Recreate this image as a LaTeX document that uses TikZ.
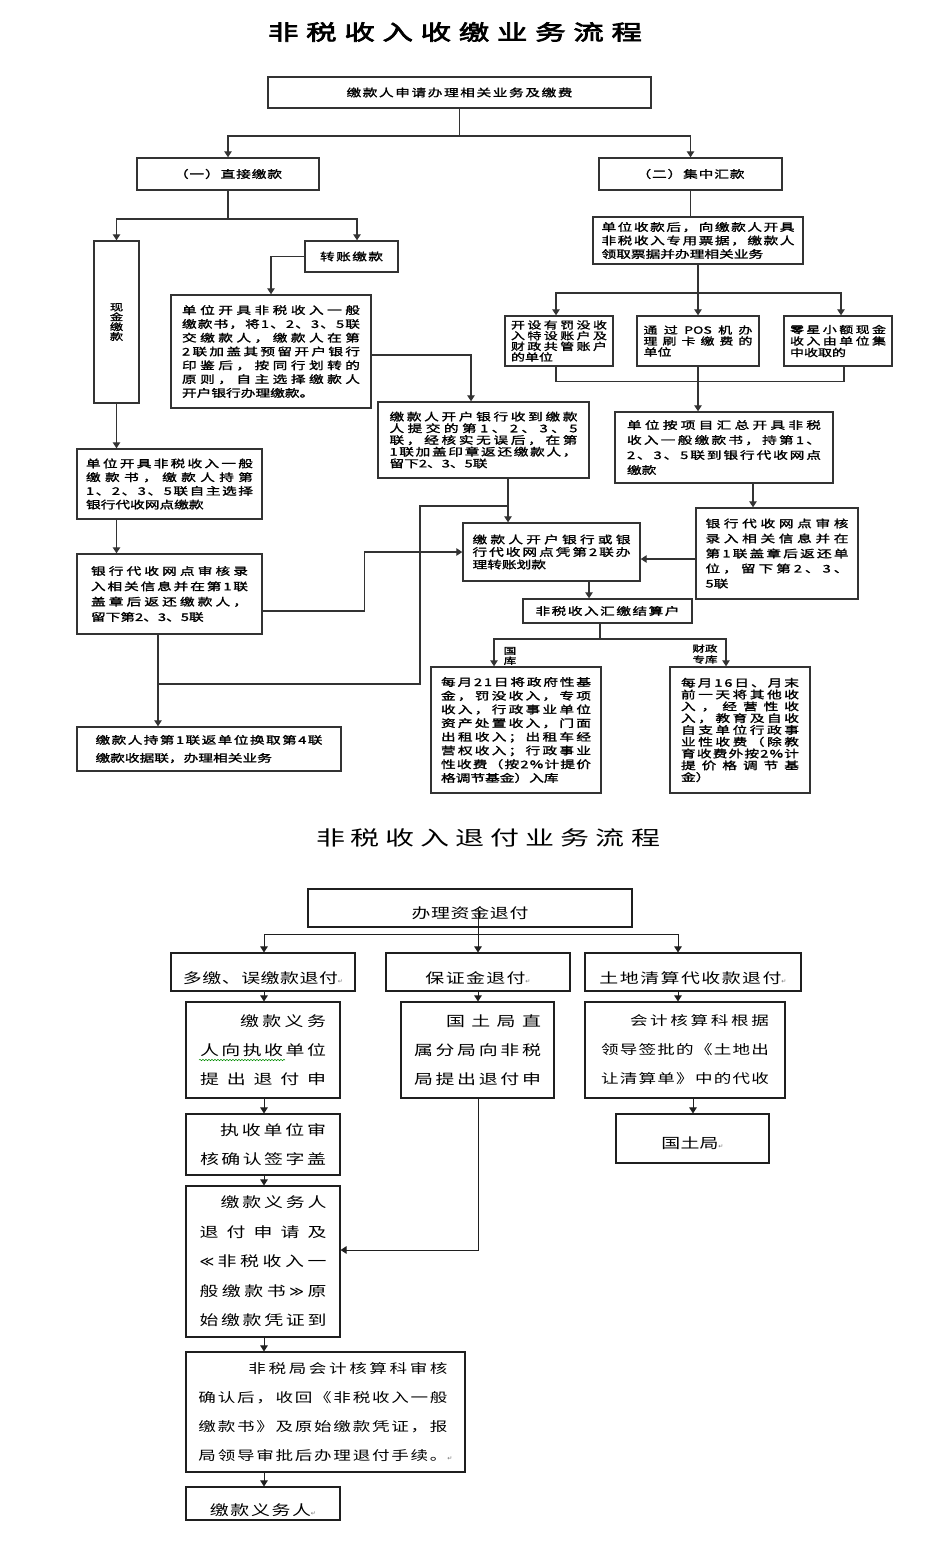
\documentclass[tikz,border=0pt]{standalone}
\usepackage{fontspec}
\usetikzlibrary{arrows.meta,decorations.pathmorphing}
\newfontfamily\cjkb[FakeStretch=1.4,FakeBold=1.6]{Noto Sans CJK SC}
\newfontfamily\cjkr[FakeStretch=1.35]{Noto Sans CJK SC}
\newfontfamily\cjkt[FakeStretch=1.45,FakeBold=3.5]{Noto Sans CJK SC}
\newfontfamily\cjktt[FakeStretch=1.45]{Noto Sans CJK SC}
\newfontfamily\dvs{DejaVu Sans}
\def\jsep{\hskip 0pt plus 1fil\relax}
\def\jloop#1{\ifx\relax#1\else#1\jsep\expandafter\jloop\fi}
\newcommand\J[2]{\hbox to #1{\jloop#2\relax\unskip}}
\newcommand\tb[2]{\vbox{\baselineskip=#1\lineskiplimit=-100pt\lineskip=0pt #2}}
\newcommand\ret{{\dvs\fontsize{6pt}{6pt}\selectfont\textcolor{black!55}{↵}}}
\newcommand\mylll{{\dvs ≪}}
\newcommand\myggg{{\dvs ≫}}
\tikzset{
  ubox/.style={draw=black!80, line width=1.4pt, inner sep=0pt, font=\cjkb\fontsize{10.5pt}{13pt}\selectfont},
  lbox/.style={draw=black!88, line width=1.1pt, inner sep=0pt, font=\cjkr\fontsize{14pt}{16pt}\selectfont},
  ln/.style={draw=black!80, line width=1.2pt},
  arr/.style={ln, -{Triangle[length=6pt,width=7.5pt]}},
  lln/.style={draw=black!88, line width=1pt},
  larr/.style={lln, -{Triangle[length=6pt,width=7.5pt]}},
  lab/.style={inner sep=0pt, font=\cjkb\fontsize{9pt}{10pt}\selectfont},
  lowtext/.style={text height=#1, text depth=0pt}
}
\begin{document}
\begin{tikzpicture}[x=1pt,y=-1pt]
\fill[white] (0,0) rectangle (952,1547);
\useasboundingbox (0,0) rectangle (952,1547);

% titles
\node[inner sep=0pt, font=\cjkt\fontsize{21pt}{21pt}\selectfont] (t1) at (455,32) {\J{374pt}{非税收入收缴业务流程}};
\node[inner sep=0pt, font=\cjktt\fontsize{20pt}{20pt}\selectfont] (t2) at (488,838) {\J{344pt}{非税收入退付业务流程}};

% ---------- upper flow ----------
\node[ubox, minimum width=383pt, minimum height=31pt] (n0) at (459.5,92.5) {\J{226pt}{缴款人申请办理相关业务及缴费}};
\node[ubox, minimum width=182pt, minimum height=32pt] (n1) at (228,174) {\J{108pt}{（一）直接缴款}};
\node[ubox, minimum width=183pt, minimum height=32pt] (n2) at (690.5,174) {\J{108pt}{（二）集中汇款}};
\node[ubox, minimum width=45pt, minimum height=162pt, font=\cjkb\fontsize{9.5pt}{9.5pt}\selectfont] (n3) at (116.5,322) {\tb{9.8pt}{\hbox{现}\hbox{金}\hbox{缴}\hbox{款}}};
\node[ubox, minimum width=93pt, minimum height=31pt] (n4) at (351.5,256.5) {\J{63pt}{转账缴款}};
\node[ubox, minimum width=200pt, minimum height=113pt] (n5) at (271,351.5) {\tb{13.8pt}{\J{178pt}{单位开具非税收入一般}\J{178pt}{缴款书，将1、2、3、5联}\J{178pt}{交缴款人，缴款人在第}\J{178pt}{2联加盖其预留开户银行}\J{178pt}{印鉴后，按同行划转的}\J{178pt}{原则，自主选择缴款人}\hbox{开户银行办理缴款。}}};
\node[ubox, minimum width=211pt, minimum height=76pt] (n6) at (483.5,440) {\tb{11.7pt}{\J{188pt}{缴款人开户银行收到缴款}\J{188pt}{人提交的第1、2、3、5}\J{188pt}{联，经核实无误后，在第}\J{188pt}{1联加盖印章返还缴款人，}\hbox{留下2、3、5联}}};
\node[ubox, minimum width=185pt, minimum height=70pt] (n7) at (169.5,484) {\tb{13.7pt}{\J{167pt}{单位开具非税收入一般}\J{167pt}{缴款书，缴款人持第}\J{167pt}{1、2、3、5联自主选择}\hbox{银行代收网点缴款}}};
\node[ubox, minimum width=185pt, minimum height=80pt] (n8) at (169.5,594) {\tb{15.3pt}{\J{157pt}{银行代收网点审核录}\J{157pt}{入相关信息并在第1联}\J{157pt}{盖章后返还缴款人，}\hbox{留下第2、3、5联}}};
\node[ubox, minimum width=177pt, minimum height=58pt] (n9) at (551.5,552) {\tb{12.5pt}{\J{158pt}{缴款人开户银行或银}\J{158pt}{行代收网点凭第2联办}\hbox{理转账划款}}};
\node[ubox, minimum width=264pt, minimum height=44pt] (n10) at (209,749) {\tb{18pt}{\J{227pt}{缴款人持第1联返单位换取第4联}\hbox{缴款收据联，办理相关业务}}};
\node[ubox, minimum width=169pt, minimum height=24pt] (n11) at (607.5,611) {\J{144pt}{非税收入汇缴结算户}};
\node[ubox, minimum width=170pt, minimum height=126pt] (n12) at (516,730) {\tb{13.7pt}{\J{150pt}{每月21日将政府性基}\J{150pt}{金，罚没收入，专项}\J{150pt}{收入，行政事业单位}\J{150pt}{资产处置收入，门面}\J{150pt}{出租收入；出租车经}\J{150pt}{营权收入；行政事业}\J{150pt}{性收费（按2\%计提价}\hbox{格调节基金）入库}}};
\node[ubox, minimum width=140pt, minimum height=126pt] (n13) at (740,730) {\tb{11.8pt}{\J{118pt}{每月16日、月末}\J{118pt}{前一天将其他收}\J{118pt}{入，经营性收}\J{118pt}{入，教育及自收}\J{118pt}{自支单位行政事}\J{118pt}{业性收费（除教}\J{118pt}{育收费外按2\%计}\J{118pt}{提价格调节基}\hbox{金）}}};
\node[ubox, minimum width=210pt, minimum height=47pt] (n14) at (698,240.5) {\tb{13.5pt}{\J{193pt}{单位收款后，向缴款人开具}\J{193pt}{非税收入专用票据，缴款人}\hbox{领取票据并办理相关业务}}};
\node[ubox, minimum width=108pt, minimum height=50pt, font=\cjkb\fontsize{10pt}{11pt}\selectfont] (n15) at (559,341) {\tb{10.7pt}{\J{96pt}{开设有罚没收}\J{96pt}{入特设账户及}\J{96pt}{财政共管账户}\hbox{的单位}}};
\node[ubox, minimum width=122pt, minimum height=50pt, font=\cjkb\fontsize{10pt}{11pt}\selectfont] (n16) at (698,341) {\tb{11pt}{\J{109pt}{通过{POS}机办}\J{109pt}{理刷卡缴费的}\hbox{单位}}};
\node[ubox, minimum width=108pt, minimum height=50pt, font=\cjkb\fontsize{10pt}{11pt}\selectfont] (n17) at (838,341) {\tb{11.5pt}{\J{96pt}{零星小额现金}\J{96pt}{收入由单位集}\hbox{中收取的}}};
\node[ubox, minimum width=218pt, minimum height=71pt] (n18) at (724,447.5) {\tb{15pt}{\J{194pt}{单位按项目汇总开具非税}\J{194pt}{收入一般缴款书，持第1、}\J{194pt}{2、3、5联到银行代收网点}\hbox{缴款}}};
\node[ubox, minimum width=162pt, minimum height=91pt] (n19) at (777,553.5) {\tb{15pt}{\J{143pt}{银行代收网点审核}\J{143pt}{录入相关信息并在}\J{143pt}{第1联盖章后返还单}\J{143pt}{位，留下第2、3、}\hbox{5联}}};

\node[lab] (lk1) at (510,656) {\tb{10pt}{\hbox{国}\hbox{库}}};
\node[lab] (lk2) at (705,654) {\tb{11pt}{\hbox{财政}\hbox{专库}}};

% helper coordinates
\coordinate (x471) at (471,0);
\coordinate (x158) at (158,0);
\coordinate (x508) at (508,0);
\coordinate (x589) at (589,0);
\coordinate (x600) at (600,0);
\coordinate (x494) at (494,0);
\coordinate (x726) at (726,0);
\coordinate (x556) at (556,0);
\coordinate (x841) at (841,0);
\coordinate (x844) at (844,0);
\coordinate (x753) at (753,0);
\coordinate (y559) at (0,559);
\coordinate (j1) at (459.5,136);
\coordinate (j2) at (228,219);
\coordinate (j3) at (158,684);
\coordinate (j4) at (508,506);
\coordinate (j5) at (600,639);
\coordinate (j6) at (698,293);
\coordinate (j7) at (420,506);

% upper connectors
\draw[ln] (n0.south) -- (j1);
\draw[arr] (j1) -| (n1.north);
\draw[arr] (j1) -| (n2.north);
\draw[ln] (n1.south) -- (j2);
\draw[arr] (j2) -| (n3.north);
\draw[arr] (j2) -| ([xshift=5.5pt]n4.north);
\draw[arr] (n4.west) -| (n5.north);
\draw[arr] ([yshift=-3.5pt]n5.east) -| (n6.north -| x471);
\draw[arr] (n3.south) -- (n3.south |- n7.north);
\draw[arr] (n3.south |- n7.south) -- (n3.south |- n8.north);
\draw[arr] ([yshift=-17pt]n8.east) -- ++(102,0) |- (n9.west);
\draw[arr] (n8.south -| x158) -- (n10.north -| x158);
\draw[ln] (j3) -| (j7) -- (j4);
\draw[arr] (n6.south -| x508) -- (n9.north -| x508);
\draw[arr] (n9.south -| x589) -- (n11.north -| x589);
\draw[ln] (n11.south -| x600) -- (j5);
\draw[arr] (j5) -| (n12.north -| x494);
\draw[arr] (j5) -| (n13.north -| x726);
\draw[ln] (n2.south) -- (n2.south |- n14.north);
\draw[arr] (n14.south) -- (n16.north);
\draw[arr] (j6) -| (n15.north -| x556);
\draw[arr] (j6) -| (n17.north -| x841);
\draw[ln] (n15.south -| x556) -- ++(0,15) -| (n17.south -| x844);
\draw[arr] (n16.south) -- (n18.north -| n16.south);
\draw[arr] (n18.south -| x753) -- (n19.north -| x753);
\draw[arr] (n19.west |- y559) -- (n9.east |- y559);

% ---------- lower flow ----------
\node[lbox, minimum width=324pt, minimum height=38pt, lowtext=21.5pt] (b0) at (470,908) {\J{117pt}{办理资金退付}};
\node[lbox, minimum width=184pt, minimum height=38pt, lowtext=22.5pt] (b1) at (263,972) {\J{155pt}{多缴、误缴款退付}\ret};
\node[lbox, minimum width=184pt, minimum height=38pt, lowtext=22.5pt] (b2) at (478,972) {\J{100pt}{保证金退付}\ret};
\node[lbox, minimum width=216pt, minimum height=38pt, lowtext=22.5pt] (b3) at (693,972) {\J{182pt}{土地清算代收款退付}\ret};
\node[lbox, minimum width=154pt, minimum height=96pt] (b4) at (263,1050) {\tb{29pt}{\hbox to 126pt{\hfill\J{86pt}{缴款义务}}\J{126pt}{人向执收单位}\J{126pt}{提出退付申}}};
\node[lbox, minimum width=153pt, minimum height=96pt] (b5) at (477.5,1050) {\tb{29pt}{\hbox to 127pt{\hfill\J{95pt}{国土局直}}\J{127pt}{属分局向非税}\J{127pt}{局提出退付申}}};
\node[lbox, minimum width=200pt, minimum height=96pt, font=\cjkr\fontsize{13pt}{15pt}\selectfont] (b6) at (685,1050) {\tb{29pt}{\hbox to 168pt{\hfill\J{139pt}{会计核算科根据}}\J{168pt}{领导签批的《土地出}\J{168pt}{让清算单》中的代收}}};
\node[lbox, minimum width=154pt, minimum height=61pt] (b7) at (263,1144.5) {\tb{29pt}{\hbox to 126pt{\hfill\J{106pt}{执收单位审}}\J{126pt}{核确认签字盖}}};
\node[lbox, minimum width=154pt, minimum height=151pt] (b8) at (263,1261.5) {\tb{29.5pt}{\hbox to 127pt{\hfill\J{106pt}{缴款义务人}}\J{127pt}{退付申请及}\J{127pt}{\mylll 非税收入一}\J{127pt}{般缴款书\myggg 原}\J{127pt}{始缴款凭证到}}};
\node[lbox, minimum width=279pt, minimum height=120pt, font=\cjkr\fontsize{13pt}{15pt}\selectfont] (b9) at (325.5,1412) {\tb{29pt}{\hbox to 249pt{\hfill\J{199pt}{非税局会计核算科审核}}\J{249pt}{确认后，收回《非税收入一般}\J{249pt}{缴款书》及原始缴款凭证，报}\hbox{\J{249pt}{局领导审批后办理退付手续。}\ret}}};
\node[lbox, minimum width=154pt, minimum height=33pt, lowtext=23pt] (b10) at (263,1503.5) {\J{101pt}{缴款义务人}\ret};
\node[lbox, minimum width=153pt, minimum height=49pt, lowtext=20pt] (b11) at (692.5,1138.5) {\J{57pt}{国土局}\ret};

\coordinate (x478) at (478,0);
\coordinate (x264) at (264,0);
\coordinate (x678) at (678,0);
\coordinate (x693) at (693,0);
\coordinate (k1) at (478,934);
\coordinate (k2) at (478,1250);
\coordinate (y1250) at (0,1250);

\draw[larr] (b0.center -| x478) -- (b2.north -| x478);
\draw[larr] (k1) -| (b1.north -| x264);
\draw[larr] (k1) -| (b3.north -| x678);
\draw[larr] (b1.south -| x264) -- (b4.north -| x264);
\draw[larr] (b2.south -| x478) -- (b5.north -| x478);
\draw[larr] (b3.south -| x678) -- (b6.north -| x678);
\draw[larr] (b4.south -| x264) -- (b7.north -| x264);
\draw[larr] (b7.south -| x264) -- (b8.north -| x264);
\draw[larr] (b5.south -| x478) -- (k2) -- (b8.east |- y1250);
\draw[larr] (b8.south -| x264) -- (b9.north -| x264);
\draw[larr] (b9.south -| x264) -- (b10.north -| x264);
\draw[larr] (b6.south -| x693) -- (b11.north -| x693);

\draw[green!55!black, line width=0.5pt, decorate, decoration={snake, amplitude=0.7pt, segment length=3pt}] (199,1060) -- (285,1060);
\end{tikzpicture}
\end{document}
